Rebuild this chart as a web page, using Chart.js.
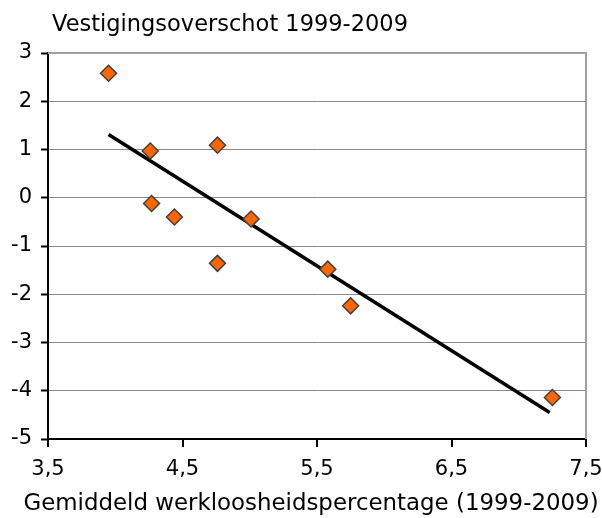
<!DOCTYPE html>
<html>
<head>
<meta charset="utf-8">
<script src="https://cdn.jsdelivr.net/npm/chart.js@4"></script>
<style>
  html, body { margin: 0; padding: 0; background: #fff; }
  #wrap { width: 602px; height: 518px; }
</style>
</head>
<body>
<div id="wrap"><canvas id="chart" width="602" height="518"></canvas></div>
<script>
// gemiddelde werkloosheid (x) tegen vestigingsoverschot (y), per regio
const werkloosheid = [3.95, 4.26, 4.27, 4.44, 4.76, 4.76, 5.01, 5.58, 5.75, 7.25];
const vestigingsoverschot = [2.58, 0.97, -0.12, -0.40, 1.09, -1.36, -0.44, -1.48, -2.24, -4.14];

// trendlijn, begin- en eindpunt
const trendX = [3.95, 7.23];
const trendY = [1.31, -4.45];

const xTicks = [3.5, 4.5, 5.5, 6.5, 7.5];
const yTicks = [3, 2, 1, 0, -1, -2, -3, -4, -5];

const chartTitle = "Vestigingsoverschot 1999-2009";
const xTitle = "Gemiddeld werkloosheidspercentage (1999-2009)";

const FONT = "'DejaVu Sans', Verdana, sans-serif";

const points = werkloosheid.map((x, i) => ({ x: x, y: vestigingsoverschot[i] }));
const trend = trendX.map((x, i) => ({ x: x, y: trendY[i] }));

// grijze rand boven en rechts van het plotgebied, titels zelf tekenen
const framePlugin = {
  id: "frame",
  beforeDatasetsDraw(chart) {
    const { ctx, chartArea: a } = chart;
    ctx.save();
    ctx.strokeStyle = "#a0a0a0";
    ctx.lineWidth = 2;
    ctx.beginPath();
    ctx.moveTo(a.left, a.top);
    ctx.lineTo(a.right, a.top);
    ctx.lineTo(a.right, a.bottom);
    ctx.stroke();
    ctx.restore();
  },
  afterDraw(chart) {
    const ctx = chart.ctx;
    ctx.save();
    ctx.fillStyle = "#000";
    ctx.textBaseline = "alphabetic";
    ctx.font = "22.5px " + FONT;
    ctx.textAlign = "left";
    ctx.fillText(chartTitle, 52, 31);
    ctx.font = "22.9px " + FONT;
    ctx.textAlign = "center";
    ctx.fillText(xTitle, 311, 510);
    ctx.restore();
  }
};

const fmt = v => String(v).replace(".", ",");

new Chart(document.getElementById("chart"), {
  type: "scatter",
  data: {
    datasets: [
      {
        data: points,
        pointStyle: "rectRot",
        pointRadius: 8,
        pointHoverRadius: 8,
        backgroundColor: "#ff6600",
        borderColor: "#404040",
        borderWidth: 1.5,
        order: 1
      },
      {
        type: "line",
        data: trend,
        showLine: true,
        borderColor: "#000",
        borderWidth: 3.5,
        pointRadius: 0,
        fill: false,
        order: 2
      }
    ]
  },
  options: {
    responsive: false,
    animation: false,
    events: [],
    layout: { padding: { top: 53, right: 16, left: 0, bottom: 0 } },
    plugins: { legend: { display: false }, tooltip: { enabled: false } },
    scales: {
      x: {
        type: "linear",
        min: 3.5,
        max: 7.5,
        afterBuildTicks: s => { s.ticks = xTicks.map(v => ({ value: v })); },
        afterFit: s => { s.height = 79; s.paddingLeft = 0; s.paddingRight = 0; },
        border: { color: "#000", width: 2 },
        grid: { drawOnChartArea: false, drawTicks: true, tickLength: 8, color: "#000", lineWidth: 2 },
        ticks: {
          color: "#000",
          font: { family: FONT, size: 21 },
          padding: 10,
          maxRotation: 0,
          callback: v => fmt(v)
        }
      },
      y: {
        type: "linear",
        min: -5,
        max: 3,
        afterBuildTicks: s => { s.ticks = yTicks.map(v => ({ value: v })); },
        afterFit: s => { s.width = 48; },
        border: { color: "#000", width: 2 },
        grid: {
          color: "#8a8a8a",
          lineWidth: 1,
          borderDash: [2, 1],
          tickColor: "#000",
          tickLength: 7,
          tickWidth: 2,
          tickBorderDash: [],
          drawTicks: true
        },
        ticks: {
          color: "#000",
          font: { family: FONT, size: 21 },
          padding: 9,
          callback: v => fmt(v)
        }
      }
    }
  },
  plugins: [framePlugin]
});
</script>
</body>
</html>
